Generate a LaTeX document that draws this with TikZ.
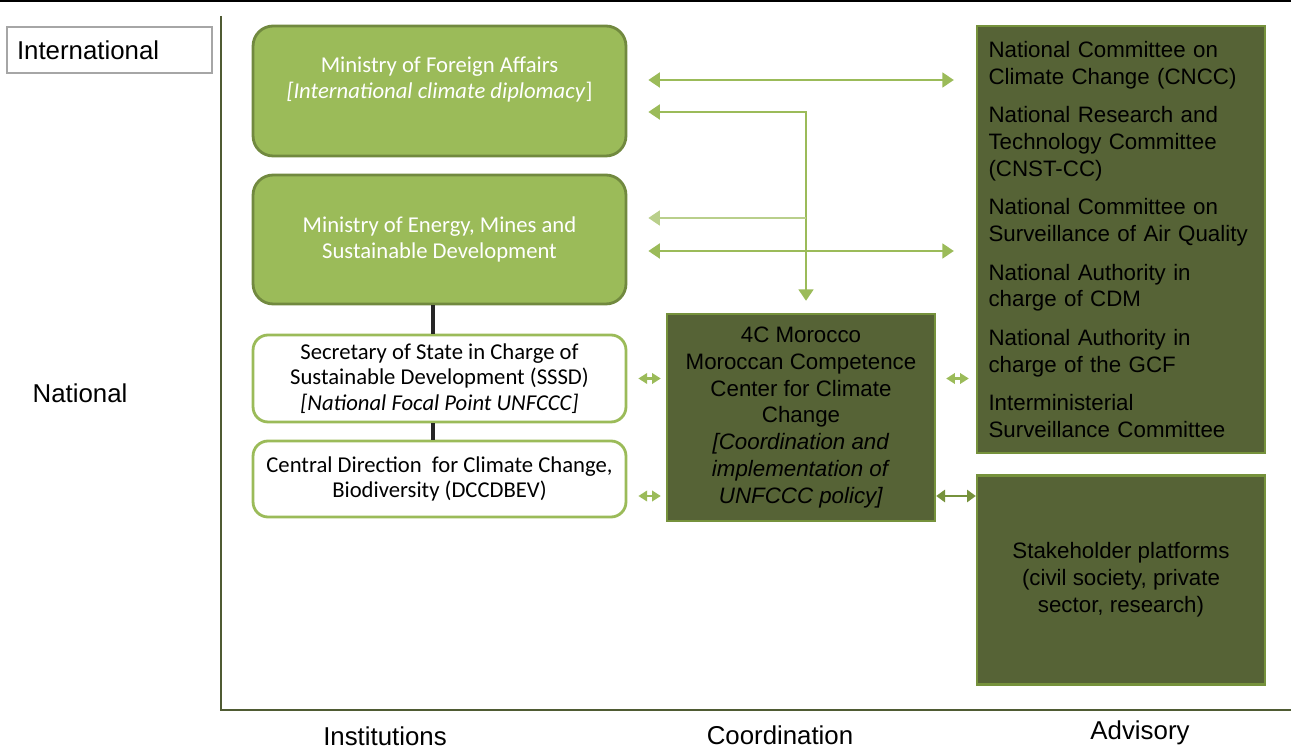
\documentclass[tikz,border=0pt]{standalone}
\usepackage{fontspec}
\setmainfont{Liberation Sans}
\newfontfamily\calfont{Carlito}
\usetikzlibrary{arrows.meta}

\definecolor{leaf}{HTML}{9BBB59}
\definecolor{leafdark}{HTML}{71893F}
\definecolor{moss}{HTML}{566336}
\definecolor{mossedge}{HTML}{76923C}
\definecolor{axisc}{HTML}{4F5B33}

\begin{document}
\begin{tikzpicture}[x=0.02cm,y=-0.02cm,
 ministry/.style={draw=leafdark,line width=1.6pt,fill=leaf,rounded corners=0.4cm,
        minimum width=7.46cm,text=white,align=center,
        font=\calfont\fontsize{12.9pt}{14.7pt}\selectfont},
 office/.style={draw=leaf,line width=1.6pt,fill=white,rounded corners=0.3cm,
        minimum width=7.46cm,align=center,
        font=\calfont\fontsize{12.9pt}{14.7pt}\selectfont},
 council/.style={draw=mossedge,line width=1.4pt,fill=moss,align=center,
        font=\fontsize{12.7pt}{15.3pt}\selectfont},
 link/.style={leaf,line width=1.1pt,{Triangle[length=6.5pt,width=8.5pt]}-{Triangle[length=6.5pt,width=8.5pt]}},
 minilink/.style={leaf,line width=1.2pt,{Triangle[length=5pt,width=6pt]}-{Triangle[length=5pt,width=6pt]}},
 stem/.style={black!85,line width=2pt},
 axislabel/.style={font=\fontsize{14.7pt}{17pt}\selectfont}]

\useasboundingbox (0,0) rectangle (1291,749);
\draw[line width=1.2pt] (0,1) -- (1291,1);

% axes
\draw[axisc,line width=1.1pt] (221,16) -- (221,710) -- (1291,710);
\node[draw=black!35,line width=1.2pt,minimum width=4.1cm,minimum height=0.92cm,
      text width=3.7cm,align=left,axislabel] (intl) at (109.5,50) {International};
\node[axislabel] (natl) at (80,393) {National};
\node[axislabel] (inst) at (385,736) {Institutions};
\node[axislabel] (coord) at (780,735) {Coordination};
\node[axislabel] (advis) at (1140,733) {Advisory};

% institutions
\node[ministry,minimum height=2.6cm] (foreign) at (439.5,91)
   {Ministry of Foreign Affairs\\ \textit{[International climate diplomacy}]\\ \mbox{}};
\node[ministry,minimum height=2.58cm] (energy) at (439.5,239.5)
   {Ministry of Energy, Mines and\\ Sustainable Development};
\node[office,minimum height=1.74cm] (sssd) at (439.5,378.5)
   {Secretary of State in Charge of\\ Sustainable Development (SSSD)\\ \textit{[National Focal Point UNFCCC]}};
\node[office,minimum height=1.52cm] (dcc) at (439.5,479)
   {Central Direction\ \ for Climate Change,\\ Biodiversity (DCCDBEV)};
\draw[stem] ([xshift=-0.13cm]energy.south) -- ([xshift=-0.13cm]sssd.north);
\draw[stem] ([xshift=-0.13cm]sssd.south) -- ([xshift=-0.13cm]dcc.north);

% coordination
\node[council,minimum width=5.36cm,minimum height=4.14cm] (center) at (801,417.5)
   {4C Morocco\\ Moroccan Competence\\ Center for Climate\\ Change\\
    \textit{[Coordination and}\\ \textit{implementation of}\\ \textit{UNFCCC policy]}};

% advisory
\node[council,minimum width=5.76cm,minimum height=8.54cm,text width=5.3cm,
      inner xsep=0.23cm,align=left] (adv) at (1121,239.5)
   {National Committee on\\ Climate Change (CNCC)\\[6.5pt]
    National Research and\\ Technology Committee\\ (CNST-CC)\\[6.5pt]
    National Committee on\\ Surveillance of Air Quality\\[6.5pt]
    National Authority in\\ charge of CDM\\[6.5pt]
    National Authority in\\ charge of the GCF\\[6.5pt]
    Interministerial\\ Surveillance Committee};
\node[council,minimum width=5.76cm,minimum height=4.18cm] (stake) at (1121,580)
   {Stakeholder platforms\\ (civil society, private\\ sector, research)};

% links
\draw[link,shorten <=0.42cm,shorten >=0.44cm] (foreign.east |- 0,80) -- (adv.west |- 0,80);
\draw[link,shorten <=0.42cm,shorten >=0.24cm] (foreign.east |- 0,112) -| ([xshift=0.1cm]center.north);
\draw[leaf!70,line width=0.8pt,-{Triangle[length=6.5pt,width=8.5pt]},shorten >=0.42cm]
   (806,218) -- (energy.east |- 0,218);
\draw[link,shorten <=0.42cm,shorten >=0.44cm] (energy.east |- 0,251) -- (adv.west |- 0,251);
\draw[minilink,shorten <=0.22cm,shorten >=0.1cm] (sssd.east) -- (center.west |- sssd.east);
\draw[minilink,shorten <=0.22cm,shorten >=0.1cm] (dcc.east |- 0,496) -- (center.west |- 0,496);
\draw[minilink,shorten <=0.2cm,shorten >=0.14cm] (center.east |- sssd.east) -- (adv.west |- sssd.east);
\draw[mossedge,line width=1.1pt,{Triangle[length=5pt,width=7pt]}-{Triangle[length=5pt,width=7pt]}]
   (center.east |- 0,496) -- (stake.west |- 0,496);
\end{tikzpicture}
\end{document}
